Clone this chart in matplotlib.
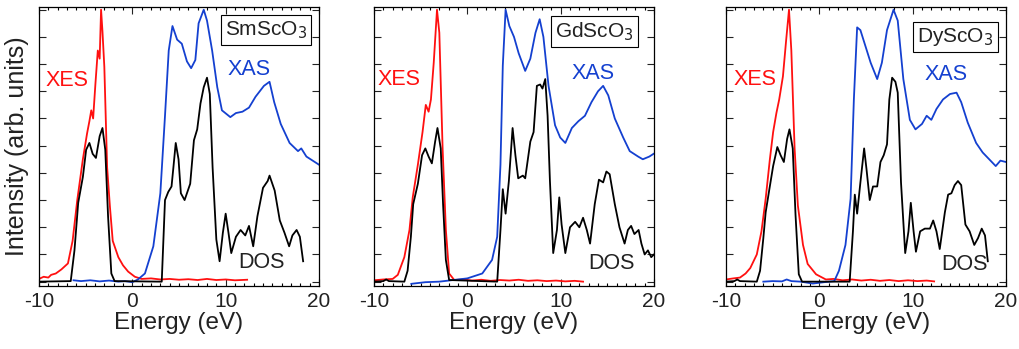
import numpy as np
import matplotlib
matplotlib.use("Agg")
import matplotlib.pyplot as plt

plt.rcParams['font.family'] = ['Liberation Sans', 'DejaVu Sans']
plt.rcParams['axes.unicode_minus'] = False

RED = '#ff1010'
BLUE = '#1440d0'

# ---- SmScO3 ----
sm_xes_x = [-10, -9.5, -9.0, -8.7, -8.2, -7.6, -6.9, -6.4, -5.9, -5.3, -4.85, -4.6, -4.4, -4.2, -3.95,
            -3.7, -3.5, -3.35, -3.2, -3.0, -2.7, -2.4, -2.1, -1.8, -1.5, -1.0, -0.45, 0.27, 1.0, 2.0,
            3.0, 4.0, 5.0, 6.0, 7.0, 8.0, 9.0, 10.0, 11.0, 12.3]
sm_xes_y = [0.1, 0.18, 0.15, 0.25, 0.3, 0.45, 0.67, 1.5, 3.0, 4.5, 5.45, 5.9, 6.3, 6.0, 7.3,
            8.5, 8.2, 10.0, 9.2, 7.9, 4.2, 2.75, 1.5, 1.2, 0.9, 0.6, 0.37, 0.18, 0.1, 0.12,
            0.08, 0.1, 0.07, 0.09, 0.06, 0.1, 0.06, 0.08, 0.05, 0.07]
sm_xas_x = [-6.3, -5.5, -4.5, -3.5, -2.5, -1.5, -0.8, 0.0, 0.6, 1.35, 2.25, 3.0, 3.5, 3.9, 4.3,
            4.8, 5.3, 5.85, 6.3, 6.75, 7.1, 7.65, 8.0, 8.55, 9.1, 9.6, 10.5, 11.1, 11.8, 12.5,
            13.2, 14.1, 14.7, 15.2, 15.9, 16.85, 17.75, 18.1, 18.65, 20.0]
sm_xas_y = [0.05, 0.02, 0.05, 0.01, 0.04, 0.0, 0.02, -0.02, 0.08, 0.3, 1.3, 3.25, 6.1, 8.5, 9.4,
            8.9, 8.75, 8.1, 7.85, 8.15, 9.5, 10.0, 9.6, 8.5, 7.15, 6.3, 6.05, 6.2, 6.25, 6.4,
            6.8, 7.2, 7.35, 6.6, 5.8, 5.1, 4.8, 4.9, 4.6, 4.3]
sm_dos_x = [-10, -6.6, -6.2, -5.8, -5.3, -4.95, -4.6, -4.25, -3.9, -3.5, -3.2, -2.9, -2.6, -2.25, -1.9,
            3.15, 3.5, 3.85, 4.2, 4.4, 4.65, 4.95, 5.2, 5.6, 6.2, 6.6, 6.95, 7.3, 7.65, 8.0,
            8.3, 8.6, 9.0, 9.35, 9.7, 10.0, 10.3, 10.6, 11.1, 11.6, 12.1, 12.5, 12.95, 13.4, 14.0,
            14.5, 14.7, 15.25, 15.8, 16.3, 16.8, 17.15, 17.6, 17.95, 18.3]
sm_dos_y = [0.0, 0.02, 1.15, 2.9, 3.85, 4.85, 5.1, 4.7, 4.55, 5.35, 5.65, 4.85, 2.4, 0.3, 0.02,
            0.0, 3.0, 3.3, 3.5, 4.2, 5.1, 4.5, 3.25, 3.0, 3.6, 5.2, 5.6, 6.55, 7.15, 7.5,
            6.9, 4.2, 1.55, 0.75, 1.8, 2.5, 1.8, 1.05, 1.65, 1.9, 1.7, 2.05, 1.3, 2.4, 3.45,
            3.7, 3.9, 3.35, 2.25, 1.8, 1.3, 1.7, 1.9, 1.65, 0.75]

# ---- GdScO3 ----
gd_xes_x = [-10, -9.0, -8.0, -7.45, -6.75, -6.2, -5.85, -5.3, -4.8, -4.45, -4.15, -3.9, -3.6, -3.25, -3.0,
            -2.65, -2.3, -1.95, -1.4, -0.5, 0.5, 1.5, 2.5, 3.5, 4.5, 5.5, 6.5, 7.5, 8.5, 9.5,
            10.5, 11.5, 12.4]
gd_xes_y = [0.05, 0.08, 0.1, 0.25, 0.9, 1.9, 3.1, 4.3, 5.5, 6.5, 6.25, 6.7, 8.05, 10.0, 9.15,
            4.9, 1.9, 0.3, 0.06, 0.08, 0.04, 0.07, 0.03, 0.06, 0.04, 0.07, 0.03, 0.05, 0.02, 0.04,
            0.01, 0.03, 0.0]
gd_xas_x = [-6.0, -4.5, -3.0, -1.5, 0.0, 1.6, 2.65, 3.2, 3.55, 3.8, 4.1, 4.5, 5.0, 5.5, 6.2,
            6.75, 7.3, 7.75, 8.15, 8.7, 9.4, 9.95, 10.5, 11.2, 11.9, 12.6, 13.3, 14.0, 14.55, 15.1,
            15.8, 16.7, 17.4, 18.3, 18.8, 19.5, 19.95]
gd_xas_y = [-0.08, -0.02, 0.0, 0.06, 0.12, 0.3, 0.8, 1.65, 4.3, 7.95, 10.0, 9.4, 9.0, 8.4, 7.75,
            8.2, 9.15, 9.65, 9.0, 7.2, 5.75, 5.3, 5.1, 5.65, 5.9, 6.1, 6.6, 7.0, 7.2, 6.85,
            6.0, 5.3, 4.8, 4.6, 4.5, 4.6, 4.7]
gd_dos_x = [-10, -9.0, -8.7, -8.4, -6.75, -6.4, -6.05, -5.8, -5.3, -4.85, -4.5, -4.15, -3.8, -3.45, -3.2,
            -2.85, -2.6, -2.3, -1.95, 3.2, 3.55, 3.8, 4.1, 4.45, 4.85, 5.15, 5.45, 5.95, 6.2, 6.75,
            7.1, 7.45, 7.8, 8.05, 8.35, 8.6, 8.85, 9.2, 9.6, 9.85, 10.1, 10.5, 11.0, 11.55, 12.0,
            12.4, 12.8, 13.15, 13.65, 14.1, 14.55, 14.9, 15.25, 15.8, 16.3, 16.85, 17.2, 17.55, 17.9, 18.35,
            18.65, 19.0, 19.35, 19.7, 20.0]
gd_dos_y = [0.0, 0.02, 0.08, 0.02, 0.0, 0.4, 1.65, 2.85, 3.6, 4.65, 4.9, 4.6, 4.35, 5.15, 5.65,
            4.9, 2.85, 0.8, 0.06, 0.0, 1.9, 3.4, 2.5, 3.7, 5.65, 4.65, 3.8, 3.9, 3.8, 5.15,
            5.5, 7.2, 7.25, 7.1, 7.45, 6.1, 3.7, 1.05, 1.9, 3.1, 2.1, 1.05, 2.0, 2.2, 2.0,
            2.35, 1.9, 1.4, 2.85, 3.75, 3.65, 4.05, 3.95, 2.85, 2.0, 1.4, 1.9, 2.05, 1.75, 1.9,
            1.4, 1.0, 1.15, 0.9, 1.0]

# ---- DyScO3 ----
dy_xes_x = [-10, -9.2, -8.5, -7.9, -7.4, -6.7, -6.2, -5.75, -5.3, -4.95, -4.6, -4.3, -3.9, -3.55, -3.25,
            -3.0, -2.65, -2.3, -1.75, -1.25, -0.35, 0.7, 1.5, 2.5, 3.5, 4.5, 5.5, 6.5, 7.5, 8.5,
            9.5, 10.5, 11.5, 12.3]
dy_xes_y = [0.08, 0.12, 0.15, 0.3, 0.5, 1.0, 1.85, 3.05, 4.5, 5.5, 6.2, 6.7, 7.55, 8.9, 10.0,
            8.5, 4.9, 2.8, 1.35, 0.65, 0.27, 0.08, 0.1, 0.05, 0.08, 0.04, 0.07, 0.03, 0.06, 0.02,
            0.05, 0.02, 0.04, 0.01]
dy_xas_x = [-6.0, -5.0, -4.0, -3.5, -3.0, -2.0, -0.7, 0.5, 1.6, 2.1, 2.8, 3.35, 3.7, 4.05, 4.4,
            4.95, 5.5, 6.2, 6.7, 7.25, 7.95, 8.4, 9.0, 9.7, 10.3, 11.0, 11.5, 12.0, 12.55, 13.25,
            14.0, 14.7, 15.2, 15.9, 16.8, 17.5, 18.2, 18.9, 19.4, 20.0]
dy_xas_y = [0.0, 0.02, 0.01, 0.08, 0.02, 0.0, -0.07, -0.02, 0.02, 0.4, 1.35, 3.05, 6.7, 9.35, 9.25,
            8.65, 8.05, 7.45, 8.05, 9.25, 10.0, 9.6, 7.45, 5.95, 5.6, 5.8, 6.1, 5.95, 6.35, 6.7,
            6.9, 6.95, 6.6, 5.85, 5.1, 4.75, 4.5, 4.25, 4.45, 4.4]
dy_dos_x = [-10, -9.1, -8.8, -8.5, -6.7, -6.35, -6.0, -5.75, -5.4, -4.95, -4.5, -4.15, -3.8, -3.45, -3.2,
            -2.85, -2.55, -2.2, -1.85, 3.25, 3.6, 3.8, 4.05, 4.4, 4.8, 5.05, 5.4, 5.75, 6.2, 6.55,
            6.9, 7.25, 7.5, 7.8, 8.15, 8.4, 8.75, 9.2, 9.55, 9.8, 10.1, 10.35, 10.8, 11.3, 11.85,
            12.2, 12.55, 12.9, 13.45, 13.8, 14.15, 14.5, 14.85, 15.2, 15.65, 16.1, 16.6, 17.0, 17.4, 17.75,
            18.05]
dy_dos_y = [0.0, 0.02, 0.08, 0.02, 0.0, 0.4, 1.6, 2.55, 3.3, 4.25, 4.95, 4.65, 4.4, 5.25, 5.6,
            4.9, 2.45, 0.27, 0.0, 0.0, 1.85, 3.2, 2.5, 3.65, 4.9, 4.15, 3.0, 3.5, 3.5, 4.4,
            4.65, 5.05, 6.7, 7.5, 7.35, 6.95, 3.65, 1.05, 1.85, 2.9, 1.85, 1.1, 1.85, 1.95, 1.95,
            2.25, 1.85, 1.2, 2.55, 3.2, 3.25, 3.55, 3.7, 3.55, 2.1, 1.85, 1.35, 1.6, 1.95, 1.7,
            0.75]

panels = [
    ('SmScO$_3$', sm_xes_x, sm_xes_y, sm_xas_x, sm_xas_y, sm_dos_x, sm_dos_y,
     (-6.98, 7.4), (12.55, 7.8), (13.8, 0.72), (14.3, 9.25)),
    ('GdScO$_3$', gd_xes_x, gd_xes_y, gd_xas_x, gd_xas_y, gd_dos_x, gd_dos_y,
     (-7.3, 7.45), (13.5, 7.65), (15.45, 0.67), (13.6, 9.2)),
    ('DyScO$_3$', dy_xes_x, dy_xes_y, dy_xas_x, dy_xas_y, dy_dos_x, dy_dos_y,
     (-6.9, 7.43), (13.6, 7.6), (15.55, 0.63), (14.6, 9.0)),
]

fig = plt.figure(figsize=(10.19, 3.49), dpi=100)
lefts = [39, 374, 726]
W, H = 1019, 349
for i, (name, xx, xy, ax_, ay, dx, dy, p_xes, p_xas, p_dos, p_box) in enumerate(panels):
    ax = fig.add_axes([lefts[i] / W, 63 / H, 280 / W, 279 / H])
    ax.plot(xx, xy, color=RED, lw=1.3)
    ax.plot(ax_, ay, color=BLUE, lw=1.3)
    ax.plot(dx, dy, color='black', lw=1.3)
    ax.set_xlim(-10, 20)
    ax.set_ylim(-0.16, 10.1)
    ax.set_xticks([-10, 0, 10, 20])
    ax.set_xticks(np.arange(-10, 21, 1), minor=True)
    ax.set_yticks(np.arange(0, 11, 1))
    ax.set_yticklabels([])
    ax.tick_params(which='both', direction='in', top=True, right=True, width=0.8)
    ax.tick_params(which='major', length=5, labelsize=15, colors='#222222', pad=4)
    ax.tick_params(which='minor', length=2.5)
    for s in ax.spines.values():
        s.set_linewidth(0.9)
    ax.set_xlabel('Energy (eV)', fontsize=17.5, color='#222222', labelpad=1)
    if i == 0:
        ax.set_ylabel('Intensity (arb. units)', fontsize=18, color='#222222', labelpad=3)
    ax.text(*p_xes, 'XES', color=RED, fontsize=15.5, ha='center', va='center')
    ax.text(*p_xas, 'XAS', color=BLUE, fontsize=15.5, ha='center', va='center')
    ax.text(*p_dos, 'DOS', color='#222222', fontsize=15.5, ha='center', va='center')
    ax.text(*p_box, name, color='#222222', fontsize=15, ha='center', va='center',
            bbox=dict(boxstyle='square,pad=0.2', fc='white', ec='black', lw=0.8))

fig.savefig('out.png', dpi=100)
